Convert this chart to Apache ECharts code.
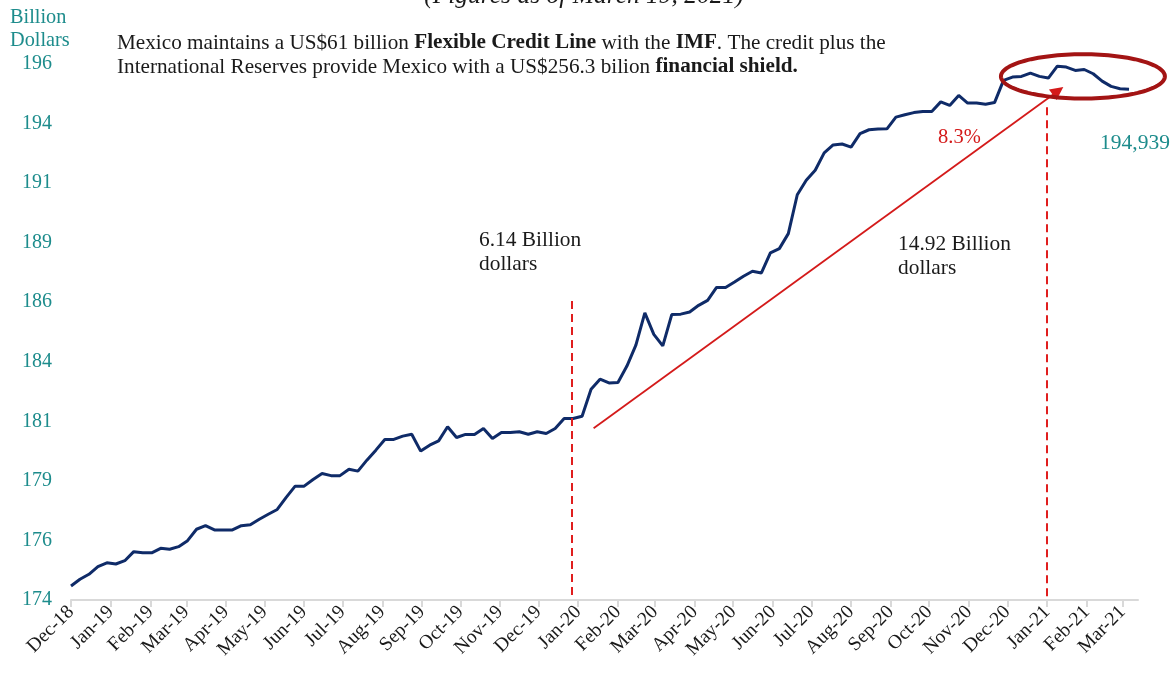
<!DOCTYPE html>
<html>
<head>
<meta charset="utf-8">
<script src="https://cdn.jsdelivr.net/npm/echarts@6/dist/echarts.min.js"></script>
<style>
html,body{margin:0;padding:0;background:#fff;}
#chart{width:1173px;height:673px;}
</style>
</head>
<body>
<div id="chart"></div>
<script>
// ---- Data ----
const firstWeek = [2018, 11, 14];           // first weekly observation (Fri 14-Dec-2018)
const lastAxisDay = [2021, 2, 26];          // end of the date axis
const reserves = [
  174.09, 174.37, 174.58, 174.90, 175.06, 175.01, 175.15, 175.53, 175.48, 175.48,
  175.67, 175.63, 175.74, 175.99, 176.47, 176.62, 176.44, 176.44, 176.44, 176.62,
  176.66, 176.89, 177.10, 177.30, 177.81, 178.28, 178.28, 178.56, 178.81, 178.72,
  178.72, 178.99, 178.91, 179.37, 179.79, 180.24, 180.24, 180.38, 180.46, 179.75,
  180.00, 180.18, 180.77, 180.32, 180.45, 180.45, 180.70, 180.28, 180.53, 180.53,
  180.56, 180.46, 180.56, 180.49, 180.70, 181.12, 181.12, 181.21, 182.35, 182.77,
  182.61, 182.63, 183.32, 184.20, 185.55, 184.65, 184.17, 185.48, 185.50, 185.59,
  185.87, 186.08, 186.62, 186.62, 186.85, 187.09, 187.30, 187.23, 188.07, 188.25,
  188.88, 190.51, 191.12, 191.54, 192.27, 192.60, 192.64, 192.51, 193.08, 193.24,
  193.27, 193.28, 193.77, 193.87, 193.96, 194.01, 194.01, 194.41, 194.26, 194.68,
  194.36, 194.36, 194.31, 194.38, 195.31, 195.45, 195.48, 195.62, 195.48, 195.41,
  195.91, 195.87, 195.73, 195.77, 195.59, 195.28, 195.06, 194.96, 194.94
];
const monthNames = ['Jan','Feb','Mar','Apr','May','Jun','Jul','Aug','Sep','Oct','Nov','Dec'];
const yMin = 173.5, yMax = 196, yStep = 2.5;
// annotations (date, value)
const markA = { date: [2020, 0, 9], top: 186.05 };     // dashed line 1
const markB = { date: [2021, 0, 14], top: 194.18 };    // dashed line 2
const arrowFrom = { date: [2020, 0, 26], value: 180.71 };
const arrowTo = { date: [2021, 0, 22, 14], value: 194.87 };
const ellipseC = { date: [2021, 1, 11], value: 195.48, rxDays: 64, ryValue: 0.93 };

// ---- Build ----
const DAY = 86400000;
const utc = a => Date.UTC(a[0], a[1], a[2], a[3] || 0);
const t0 = utc(firstWeek);
const seriesData = reserves.map((v, i) => [t0 + i * 7 * DAY, v]);
const tAxisMax = utc(lastAxisDay);
const tickVals = [];
for (let y = 2018, m = 11; ; ) {
  const t = Date.UTC(y, m, 14);
  if (t > tAxisMax) break;
  tickVals.push(t);
  m++; if (m > 11) { m = 0; y++; }
}
const fmtDate = v => { const d = new Date(v); return monthNames[d.getUTCMonth()] + '-' + String(d.getUTCFullYear()).slice(2); };

const SERIF = '"Liberation Serif", "DejaVu Serif", serif';
const TEAL = '#1d8c8c';
const NAVY = '#0f2b68';
const RED = '#d41a1a';
const DARKRED = '#a31414';

const chart = echarts.init(document.getElementById('chart'), null, { renderer: 'canvas' });
const option = {
  animation: false,
  backgroundColor: '#fff',
  grid: { left: 71, right: 35, top: 64, bottom: 73 },
  xAxis: {
    type: 'value',
    min: t0,
    max: tAxisMax,
    axisLine: { lineStyle: { color: '#d9d9d9', width: 2 } },
    axisTick: { show: true, customValues: tickVals, length: 7, lineStyle: { color: '#d9d9d9', width: 2 } },
    axisLabel: {
      customValues: tickVals, formatter: fmtDate, rotate: 45, fontSize: 19.5,
      fontFamily: SERIF, color: '#1a1a1a', margin: 9, hideOverlap: false,
      showMinLabel: true, showMaxLabel: true
    },
    splitLine: { show: false }
  },
  yAxis: {
    type: 'value', min: yMin, max: yMax, interval: yStep,
    axisLine: { show: false }, axisTick: { show: false }, splitLine: { show: false },
    axisLabel: { formatter: v => String(Math.round(v)), color: TEAL, fontSize: 20, fontFamily: SERIF, margin: 19 }
  },
  series: [{
    type: 'line',
    data: seriesData,
    symbol: 'none',
    lineStyle: { color: NAVY, width: 3 },
    z: 3,
    markLine: {
      silent: true,
      symbol: ['none', 'none'],
      label: { show: false },
      data: [
        [{ coord: [utc(markA.date), markA.top], lineStyle: { color: '#e01e1e', width: 2, type: [8, 5] } }, { coord: [utc(markA.date), yMin] }],
        [{ coord: [utc(markB.date), markB.top], lineStyle: { color: '#e01e1e', width: 2, type: [8, 5] } }, { coord: [utc(markB.date), yMin] }],
        [{ coord: [utc(arrowFrom.date), arrowFrom.value], symbol: 'none', lineStyle: { color: RED, width: 1.8, type: 'solid' } },
         { coord: [utc(arrowTo.date), arrowTo.value], symbol: 'triangle', symbolSize: [13, 13] }]
      ]
    }
  }]
};
chart.setOption(option);

// Ellipse highlighting the latest weeks, anchored on data coordinates
const c = chart.convertToPixel({ seriesIndex: 0 }, [utc(ellipseC.date), ellipseC.value]);
const cx2 = chart.convertToPixel({ seriesIndex: 0 }, [utc(ellipseC.date) + ellipseC.rxDays * DAY, ellipseC.value + ellipseC.ryValue]);
const rx = cx2[0] - c[0], ry = c[1] - cx2[1];
const pts = [];
for (let i = 0; i < 120; i++) { const a = i / 120 * Math.PI * 2; pts.push([c[0] + rx * Math.cos(a), c[1] + ry * Math.sin(a)]); }

const txt = (x, y, text, opt) => Object.assign({
  type: 'text', x, y, z: 10,
  style: Object.assign({ text, font: '21.4px ' + SERIF, fill: '#1a1a1a', align: 'left', verticalAlign: 'middle', lineHeight: 24 }, opt || {})
});

chart.setOption({
  graphic: [
    { type: 'polygon', z: 9, shape: { points: pts }, style: { fill: 'none', stroke: DARKRED, lineWidth: 4 } },
    txt(584, -4, '(Figures as of March 19, 2021)', { font: 'italic 25.5px ' + SERIF, align: 'center' }),
    txt(10, 29, 'Billion\nDollars', { fill: TEAL, font: '20.3px ' + SERIF, lineHeight: 23 }),
    {
      type: 'text', x: 117, y: 55, z: 10,
      style: {
        text: 'Mexico maintains a US$61 billion {b|Flexible Credit Line} with the {b|IMF}. The credit plus the\nInternational Reserves provide Mexico with a US$256.3 bilion {b|financial shield.}',
        font: '21.2px ' + SERIF, fill: '#1a1a1a', align: 'left', verticalAlign: 'middle', lineHeight: 24,
        rich: { b: { fontWeight: 'bold', fontSize: 21.2, fontFamily: SERIF, fill: '#1a1a1a', lineHeight: 24 } }
      }
    },
    txt(479, 252, '6.14 Billion\ndollars'),
    txt(898, 256, '14.92 Billion\ndollars'),
    txt(938, 138, '8.3%', { fill: RED, font: '20.5px ' + SERIF }),
    txt(1100, 143, '194,939', { fill: TEAL, font: '21.5px ' + SERIF })
  ]
});
</script>
</body>
</html>
